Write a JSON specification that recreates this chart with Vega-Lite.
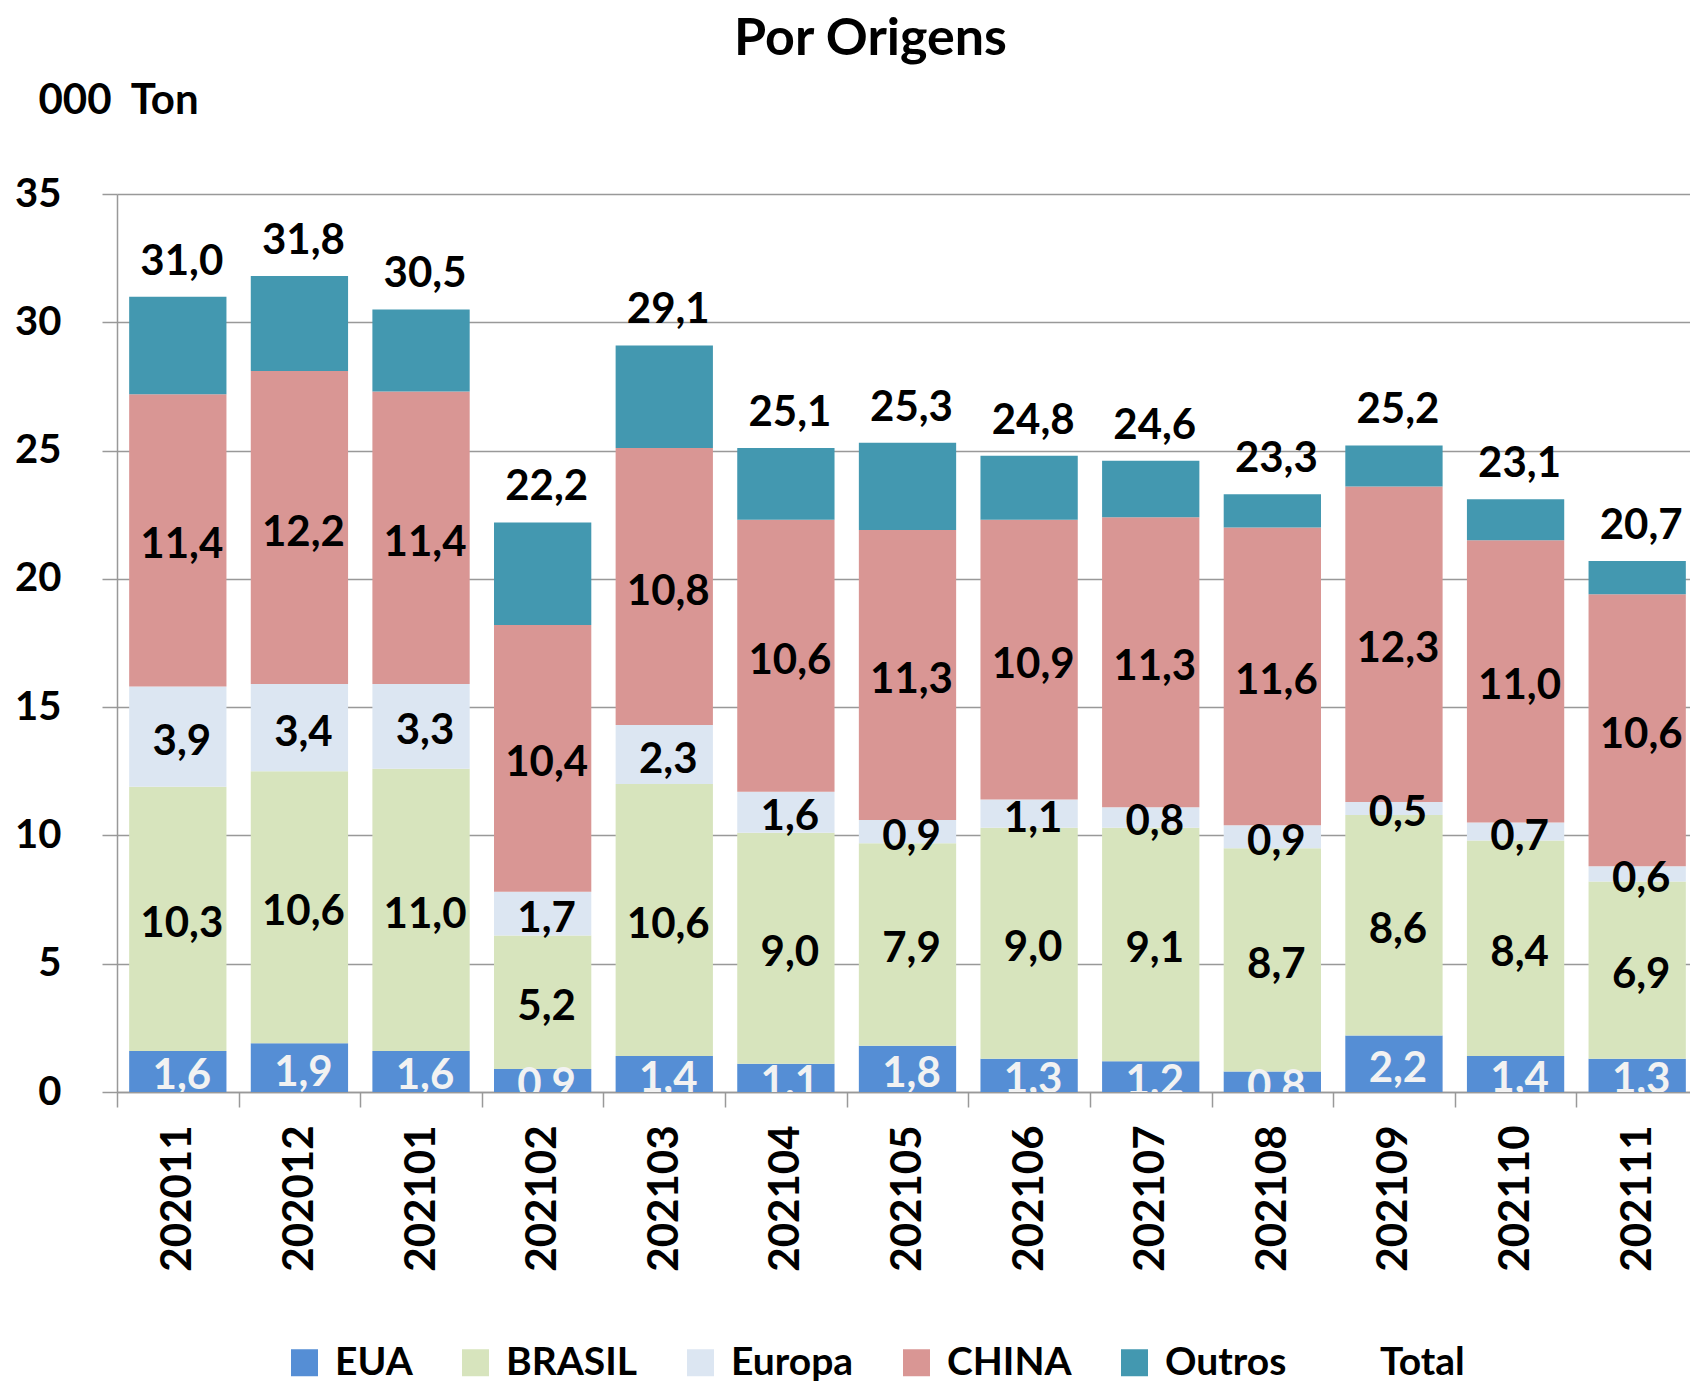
{
  "$schema": "https://vega.github.io/schema/vega-lite/v6.json",
  "autosize": {"type": "none"},
  "padding": {"left": 117, "top": 194, "right": 0, "bottom": 292},
  "width": 1573,
  "height": 898,
  "background": "white",
  "config": {
    "locale": {"number": {"decimal": ",", "thousands": ".", "grouping": [3], "currency": ["", ""]}},
    "font": "Lato",
    "view": {"stroke": null}
  },
  "title": {
    "text": "Por Origens",
    "font": "Lato",
    "fontSize": 52,
    "fontWeight": "bold",
    "color": "black",
    "anchor": "middle",
    "baseline": "alphabetic",
    "offset": 30,
    "dx": -33,
    "dy": 58
  },
  "datasets": {
    "barras": [
      {"mes": "202011", "serie": "EUA", "valor": 1.6},
      {"mes": "202011", "serie": "BRASIL", "valor": 10.3},
      {"mes": "202011", "serie": "Europa", "valor": 3.9},
      {"mes": "202011", "serie": "CHINA", "valor": 11.4},
      {"mes": "202011", "serie": "Outros", "valor": 3.8},
      {"mes": "202012", "serie": "EUA", "valor": 1.9},
      {"mes": "202012", "serie": "BRASIL", "valor": 10.6},
      {"mes": "202012", "serie": "Europa", "valor": 3.4},
      {"mes": "202012", "serie": "CHINA", "valor": 12.2},
      {"mes": "202012", "serie": "Outros", "valor": 3.7},
      {"mes": "202101", "serie": "EUA", "valor": 1.6},
      {"mes": "202101", "serie": "BRASIL", "valor": 11.0},
      {"mes": "202101", "serie": "Europa", "valor": 3.3},
      {"mes": "202101", "serie": "CHINA", "valor": 11.4},
      {"mes": "202101", "serie": "Outros", "valor": 3.2},
      {"mes": "202102", "serie": "EUA", "valor": 0.9},
      {"mes": "202102", "serie": "BRASIL", "valor": 5.2},
      {"mes": "202102", "serie": "Europa", "valor": 1.7},
      {"mes": "202102", "serie": "CHINA", "valor": 10.4},
      {"mes": "202102", "serie": "Outros", "valor": 4.0},
      {"mes": "202103", "serie": "EUA", "valor": 1.4},
      {"mes": "202103", "serie": "BRASIL", "valor": 10.6},
      {"mes": "202103", "serie": "Europa", "valor": 2.3},
      {"mes": "202103", "serie": "CHINA", "valor": 10.8},
      {"mes": "202103", "serie": "Outros", "valor": 4.0},
      {"mes": "202104", "serie": "EUA", "valor": 1.1},
      {"mes": "202104", "serie": "BRASIL", "valor": 9.0},
      {"mes": "202104", "serie": "Europa", "valor": 1.6},
      {"mes": "202104", "serie": "CHINA", "valor": 10.6},
      {"mes": "202104", "serie": "Outros", "valor": 2.8},
      {"mes": "202105", "serie": "EUA", "valor": 1.8},
      {"mes": "202105", "serie": "BRASIL", "valor": 7.9},
      {"mes": "202105", "serie": "Europa", "valor": 0.9},
      {"mes": "202105", "serie": "CHINA", "valor": 11.3},
      {"mes": "202105", "serie": "Outros", "valor": 3.4},
      {"mes": "202106", "serie": "EUA", "valor": 1.3},
      {"mes": "202106", "serie": "BRASIL", "valor": 9.0},
      {"mes": "202106", "serie": "Europa", "valor": 1.1},
      {"mes": "202106", "serie": "CHINA", "valor": 10.9},
      {"mes": "202106", "serie": "Outros", "valor": 2.5},
      {"mes": "202107", "serie": "EUA", "valor": 1.2},
      {"mes": "202107", "serie": "BRASIL", "valor": 9.1},
      {"mes": "202107", "serie": "Europa", "valor": 0.8},
      {"mes": "202107", "serie": "CHINA", "valor": 11.3},
      {"mes": "202107", "serie": "Outros", "valor": 2.2},
      {"mes": "202108", "serie": "EUA", "valor": 0.8},
      {"mes": "202108", "serie": "BRASIL", "valor": 8.7},
      {"mes": "202108", "serie": "Europa", "valor": 0.9},
      {"mes": "202108", "serie": "CHINA", "valor": 11.6},
      {"mes": "202108", "serie": "Outros", "valor": 1.3},
      {"mes": "202109", "serie": "EUA", "valor": 2.2},
      {"mes": "202109", "serie": "BRASIL", "valor": 8.6},
      {"mes": "202109", "serie": "Europa", "valor": 0.5},
      {"mes": "202109", "serie": "CHINA", "valor": 12.3},
      {"mes": "202109", "serie": "Outros", "valor": 1.6},
      {"mes": "202110", "serie": "EUA", "valor": 1.4},
      {"mes": "202110", "serie": "BRASIL", "valor": 8.4},
      {"mes": "202110", "serie": "Europa", "valor": 0.7},
      {"mes": "202110", "serie": "CHINA", "valor": 11.0},
      {"mes": "202110", "serie": "Outros", "valor": 1.6},
      {"mes": "202111", "serie": "EUA", "valor": 1.3},
      {"mes": "202111", "serie": "BRASIL", "valor": 6.9},
      {"mes": "202111", "serie": "Europa", "valor": 0.6},
      {"mes": "202111", "serie": "CHINA", "valor": 10.6},
      {"mes": "202111", "serie": "Outros", "valor": 1.3}
    ],
    "totais": [
      {"mes": "202011", "total": 31.0},
      {"mes": "202012", "total": 31.8},
      {"mes": "202101", "total": 30.5},
      {"mes": "202102", "total": 22.2},
      {"mes": "202103", "total": 29.1},
      {"mes": "202104", "total": 25.1},
      {"mes": "202105", "total": 25.3},
      {"mes": "202106", "total": 24.8},
      {"mes": "202107", "total": 24.6},
      {"mes": "202108", "total": 23.3},
      {"mes": "202109", "total": 25.2},
      {"mes": "202110", "total": 23.1},
      {"mes": "202111", "total": 20.7}
    ]
  },
  "layer": [
    {
      "data": {"name": "barras"},
      "transform": [{"stack": "valor", "groupby": ["mes"], "as": ["v0", "v1"]}],
      "mark": {"type": "bar", "width": {"band": 0.8}},
      "encoding": {
        "x": {
          "field": "mes",
          "type": "nominal",
          "title": null,
          "scale": {"type": "band", "paddingInner": 0, "paddingOuter": 0, "range": [0, 1581]},
          "axis": {
            "tickBand": "extent",
            "tickSize": 15,
            "tickColor": "#999999",
            "tickWidth": 1.5,
            "domainColor": "#999999",
            "domainWidth": 1.5,
            "grid": false,
            "labelAngle": -90,
            "labelPadding": 18,
            "labelFont": "Lato",
            "labelFontSize": 42,
            "labelFontWeight": "bold",
            "labelColor": "black"
          }
        },
        "y": {
          "field": "v0",
          "type": "quantitative",
          "title": "000\u00a0\u00a0Ton",
          "scale": {"domain": [0, 35], "nice": false},
          "axis": {
            "values": [0, 5, 10, 15, 20, 25, 30, 35],
            "grid": true,
            "gridColor": "#999999",
            "gridWidth": 1.5,
            "domainColor": "#999999",
            "domainWidth": 1.5,
            "tickColor": "#999999",
            "tickWidth": 1.5,
            "tickSize": 15,
            "labelPadding": 41,
            "labelFont": "Lato",
            "labelFontSize": 40,
            "labelFontWeight": "bold",
            "labelColor": "black",
            "titleAngle": 0,
            "titleAlign": "left",
            "titleBaseline": "alphabetic",
            "titleX": -79,
            "titleY": -81,
            "titleFont": "Lato",
            "titleFontSize": 42,
            "titleFontWeight": "bold",
            "titleColor": "black"
          }
        },
        "y2": {"field": "v1"},
        "color": {
          "field": "serie",
          "type": "nominal",
          "scale": {
            "domain": ["EUA", "BRASIL", "Europa", "CHINA", "Outros", "Total"],
            "range": ["#558ED5", "#D7E4BD", "#DCE6F2", "#D99694", "#4398B0", "rgba(0,0,0,0)"]
          },
          "legend": {
            "title": null,
            "orient": "none",
            "direction": "horizontal",
            "legendX": 168,
            "legendY": 1149,
            "padding": 0,
            "symbolType": "square",
            "symbolSize": 729,
            "symbolStrokeWidth": 0,
            "labelFont": "Lato",
            "labelFontSize": 39,
            "labelFontWeight": "bold",
            "labelColor": "black",
            "labelOffset": 11,
            "columnPadding": 43
          }
        }
      }
    },
    {
      "data": {"name": "barras"},
      "transform": [
        {"stack": "valor", "groupby": ["mes"], "as": ["v0", "v1"]},
        {"filter": "datum.serie !== 'Outros'"},
        {"fold": ["v0", "v1"], "as": ["borda", "pos"]},
        {"aggregate": [{"op": "mean", "field": "pos", "as": "meio"}], "groupby": ["mes", "serie", "valor"]}
      ],
      "mark": {"type": "text", "font": "Lato", "fontSize": 42, "fontWeight": "bold", "baseline": "middle", "align": "center", "dx": 4, "dy": 5, "clip": true},
      "encoding": {
        "x": {"field": "mes", "type": "nominal", "title": null},
        "y": {"field": "meio", "type": "quantitative", "title": "000\u00a0\u00a0Ton"},
        "text": {"field": "valor", "type": "quantitative", "format": ".1f"},
        "color": {"condition": {"test": "datum.serie === 'EUA'", "value": "#F2F2F2"}, "value": "black"}
      }
    },
    {
      "data": {"name": "totais"},
      "mark": {"type": "text", "font": "Lato", "fontSize": 42, "fontWeight": "bold", "baseline": "alphabetic", "align": "center", "dx": 4, "dy": -22, "color": "black"},
      "encoding": {
        "x": {"field": "mes", "type": "nominal", "title": null},
        "y": {"field": "total", "type": "quantitative", "title": "000\u00a0\u00a0Ton"},
        "text": {"field": "total", "type": "quantitative", "format": ".1f"}
      }
    }
  ]
}
